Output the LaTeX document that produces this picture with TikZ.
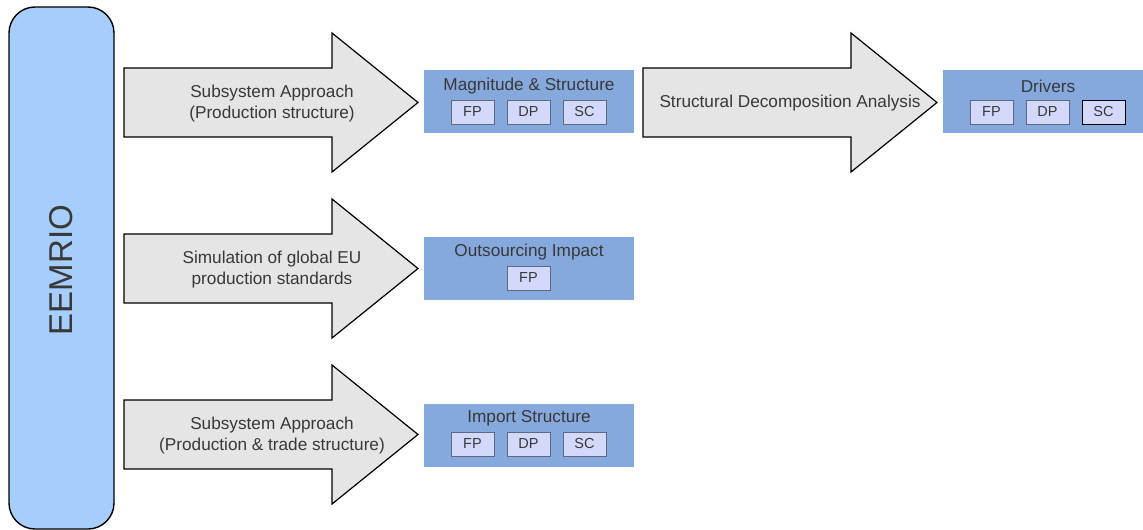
\documentclass[tikz,border=0pt]{standalone}
\usepackage{fontspec}
\setmainfont{Liberation Sans}
\definecolor{eefill}{HTML}{A6CEFD}
\definecolor{arrfill}{HTML}{E5E5E5}
\definecolor{boxfill}{HTML}{86A9DD}
\definecolor{smallfill}{HTML}{D3D9FB}
\definecolor{smalldraw}{HTML}{60687A}
\definecolor{txt}{HTML}{383838}
\tikzset{
  arrowshape/.style={draw=black, line width=1.2pt, fill=arrfill, line join=miter},
  pics/bigarrow/.style={code={
    \draw[arrowshape] (0,-34.5) -- (208,-34.5) -- (208,-69.5) -- (294,0)
      -- (208,69.5) -- (208,34.5) -- (0,34.5) -- cycle;}},
  arrowtext/.style={text=txt, font=\fontsize{17.2}{21}\selectfont, align=center, inner sep=0pt},
  resbox/.style={fill=boxfill, draw=none, minimum width=210pt, minimum height=63pt, inner sep=0pt, anchor=north west},
  restitle/.style={text=txt, font=\fontsize{17.2}{20}\selectfont, inner sep=0pt},
  smallbox/.style={fill=smallfill, draw=smalldraw, line width=0.7pt, minimum width=43pt, minimum height=24pt, inner sep=0pt, text=txt, font=\fontsize{14.5}{16}\selectfont},
}
\begin{document}
\begin{tikzpicture}[x=1pt, y=-1pt]
\useasboundingbox (0,0) rectangle (1143,530);
% EEMRIO column
\draw[fill=eefill, draw=black, line width=1.4pt, rounded corners=26pt] (9,7) rectangle (114,529);
\node[rotate=90, text=txt, font=\fontsize{33}{36}\selectfont, inner sep=0pt] (eem) at (61.5,270) {EEMRIO};

% arrows
\pic at (124,102.5) {bigarrow};
\pic at (643,102.5) {bigarrow};
\pic at (124,268.5) {bigarrow};
\pic at (124,434.5) {bigarrow};
\node[arrowtext] (a1) at (272,104) {Subsystem Approach\\(Production structure)};
\node[arrowtext] (a2) at (790,103.5) {Structural Decomposition Analysis};
\node[arrowtext] (a3) at (272,270) {Simulation of global EU\\production standards};
\node[arrowtext] (a4) at (272,436) {Subsystem Approach\\(Production \& trade structure)};

% Magnitude & Structure
\node[resbox] (mag) at (424,70) {};
\node[restitle] (magt) at (529,86) {Magnitude \& Structure};
\node[smallbox] (magfp) at (472.5,112) {FP};
\node[smallbox] (magdp) at (528.5,112) {DP};
\node[smallbox] (magsc) at (584.5,112) {SC};

% Drivers
\node[resbox] (drv) at (943,70) {};
\node[restitle] (drvt) at (1048,86) {Drivers};
\node[smallbox] (drvfp) at (991.5,112) {FP};
\node[smallbox] (drvdp) at (1047.5,112) {DP};
\node[smallbox, draw=black] (drvsc) at (1103.5,112) {SC};

% Outsourcing Impact
\node[resbox] (out) at (424,237) {};
\node[restitle] (outt) at (529,252) {Outsourcing Impact};
\node[smallbox] (outfp) at (528.5,278) {FP};

% Import Structure
\node[resbox] (imp) at (424,404) {};
\node[restitle] (impt) at (529,418) {Import Structure};
\node[smallbox] (impfp) at (472.5,444) {FP};
\node[smallbox] (impdp) at (528.5,444) {DP};
\node[smallbox] (impsc) at (584.5,444) {SC};
\end{tikzpicture}
\end{document}
